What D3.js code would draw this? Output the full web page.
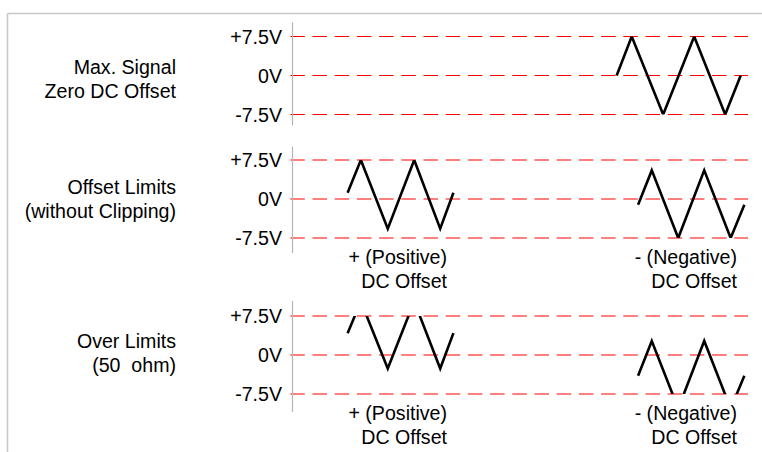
<!DOCTYPE html>
<html>
<head>
<meta charset="utf-8">
<script src="https://d3js.org/d3.v7.min.js"></script>
<style>
  body { margin: 0; background: #fff; }
  svg text { font-family: "Liberation Sans", Arial, sans-serif; font-size: 19.6px; fill: #000; white-space: pre; }
  .grid { stroke: #ff0000; stroke-width: 1.2; stroke-dasharray: 14.5 7.7; }
  .wave { fill: none; stroke: #000; stroke-width: 2.6; stroke-linejoin: miter; }
</style>
</head>
<body>
<script>
// voltage levels and their tick text
var tickValues = [7.5, 0, -7.5];
var tickLabels = ["+7.5V", "0V", "-7.5V"];

// row captions (two lines each)
var rowLabels = [
  ["Max. Signal", "Zero DC Offset"],
  ["Offset Limits", "(without Clipping)"],
  ["Over Limits", "(50  ohm)"]
];
var offsetLabels = [["+ (Positive)", "DC Offset"], ["- (Negative)", "DC Offset"]];

// triangle wave corners: time (arbitrary units 0..10) and volts
var maxTime = [7.12, 7.45, 8.14, 8.82, 9.50, 9.84];
var maxVolts = [0, 7.5, -7.5, 7.5, -7.5, 0];
var posTime = [1.22, 1.51, 2.10, 2.68, 3.25, 3.54];
var posVolts = [1.2, 7.5, -5.7, 7.5, -5.7, 1.2];
var negTime = [7.59, 7.89, 8.47, 9.04, 9.62, 9.92];
var negVolts = [-1.1, 5.5, -7.5, 5.5, -7.5, -1.1];
var overPosVolts = [4.2, 10.3, -2.6, 10.3, -2.6, 4.2];
var overNegVolts = [-4.0, 2.7, -10.3, 2.7, -10.3, -4.0];

var w = 762, h = 452;
var axisX = 292, gridEnd = 748;

// panel layout: y of +7.5V line, axis overhang above/below, caption baselines from 0V
var panels = [
  { top: 36.5, above: 14, below: 11, cap: [-1.5, 22.5], waves: [[maxTime, maxVolts]], notes: false },
  { top: 160, above: 13.3, below: 15, cap: [-5, 19.3], waves: [[posTime, posVolts], [negTime, negVolts]], notes: true },
  { top: 316, above: 15, below: 18, cap: [-6.7, 16.5], waves: [[posTime, overPosVolts], [negTime, overNegVolts]], notes: true }
];
var span = 78;

var svg = d3.select("body").append("svg")
  .attr("width", w)
  .attr("height", h);

// outer frame (top and left edges only are visible)
svg.append("line").attr("x1", 7.5).attr("x2", 7.5).attr("y1", 13.5).attr("y2", h)
  .attr("stroke", "#c8c8c8").attr("stroke-width", 1.5);
svg.append("line").attr("x1", 7.5).attr("x2", w).attr("y1", 13.5).attr("y2", 13.5)
  .attr("stroke", "#c8c8c8").attr("stroke-width", 1.5);

var x = d3.scaleLinear().domain([0, 10]).range([axisX, gridEnd]);

panels.forEach(function(p, i) {
  var y = d3.scaleLinear().domain([-7.5, 7.5]).range([p.top + span, p.top]);
  var g = svg.append("g");

  // dashed red level lines
  g.selectAll("line.grid")
    .data(tickValues)
    .enter().append("line")
    .attr("class", "grid")
    .attr("x1", axisX - 1.7).attr("x2", gridEnd)
    .attr("y1", function(d) { return y(d); })
    .attr("y2", function(d) { return y(d); });

  // axis with text labels
  var axis = d3.axisLeft(y)
    .tickValues(tickValues)
    .tickSize(0)
    .tickPadding(10)
    .tickFormat(function(d, k) { return tickLabels[k]; });
  var ag = g.append("g").attr("transform", "translate(" + axisX + ",0)").call(axis);
  ag.select(".domain").remove();
  ag.selectAll("text").attr("font-size", null).attr("font-family", null).attr("dy", "0.35em");
  g.append("line")
    .attr("x1", axisX + 0.5).attr("x2", axisX + 0.5)
    .attr("y1", p.top - p.above).attr("y2", p.top + span + p.below)
    .attr("stroke", "#b4b4b4").attr("stroke-width", 1.2);

  // clip waves at the +/-7.5V limits
  var clipId = "clip" + i;
  svg.append("clipPath").attr("id", clipId)
    .append("rect")
    .attr("x", axisX).attr("width", gridEnd - axisX + 10)
    .attr("y", y(7.5)).attr("height", y(-7.5) - y(7.5));

  var line = d3.line()
    .x(function(d) { return x(d[0]); })
    .y(function(d) { return y(d[1]); });

  p.waves.forEach(function(wv) {
    var pts = d3.zip(wv[0], wv[1]);
    g.append("path")
      .attr("class", "wave")
      .attr("clip-path", "url(#" + clipId + ")")
      .attr("d", line(pts));
  });

  // row caption on the left
  var y0 = y(0);
  g.selectAll("text.cap")
    .data(rowLabels[i])
    .enter().append("text")
    .attr("class", "cap")
    .attr("x", 176)
    .attr("y", function(d, k) { return y0 + p.cap[k]; })
    .attr("text-anchor", "end")
    .text(function(d) { return d; });

  // +/- offset notes under the waves
  if (p.notes) {
    var noteX = [447, 737];
    offsetLabels.forEach(function(lines, j) {
      g.selectAll("text.note" + j)
        .data(lines)
        .enter().append("text")
        .attr("class", "note" + j)
        .attr("x", noteX[j])
        .attr("y", function(d, k) { return y(-7.5) + 26 + k * 23.5; })
        .attr("text-anchor", "end")
        .text(function(d) { return d; });
    });
  }
});
</script>
</body>
</html>
